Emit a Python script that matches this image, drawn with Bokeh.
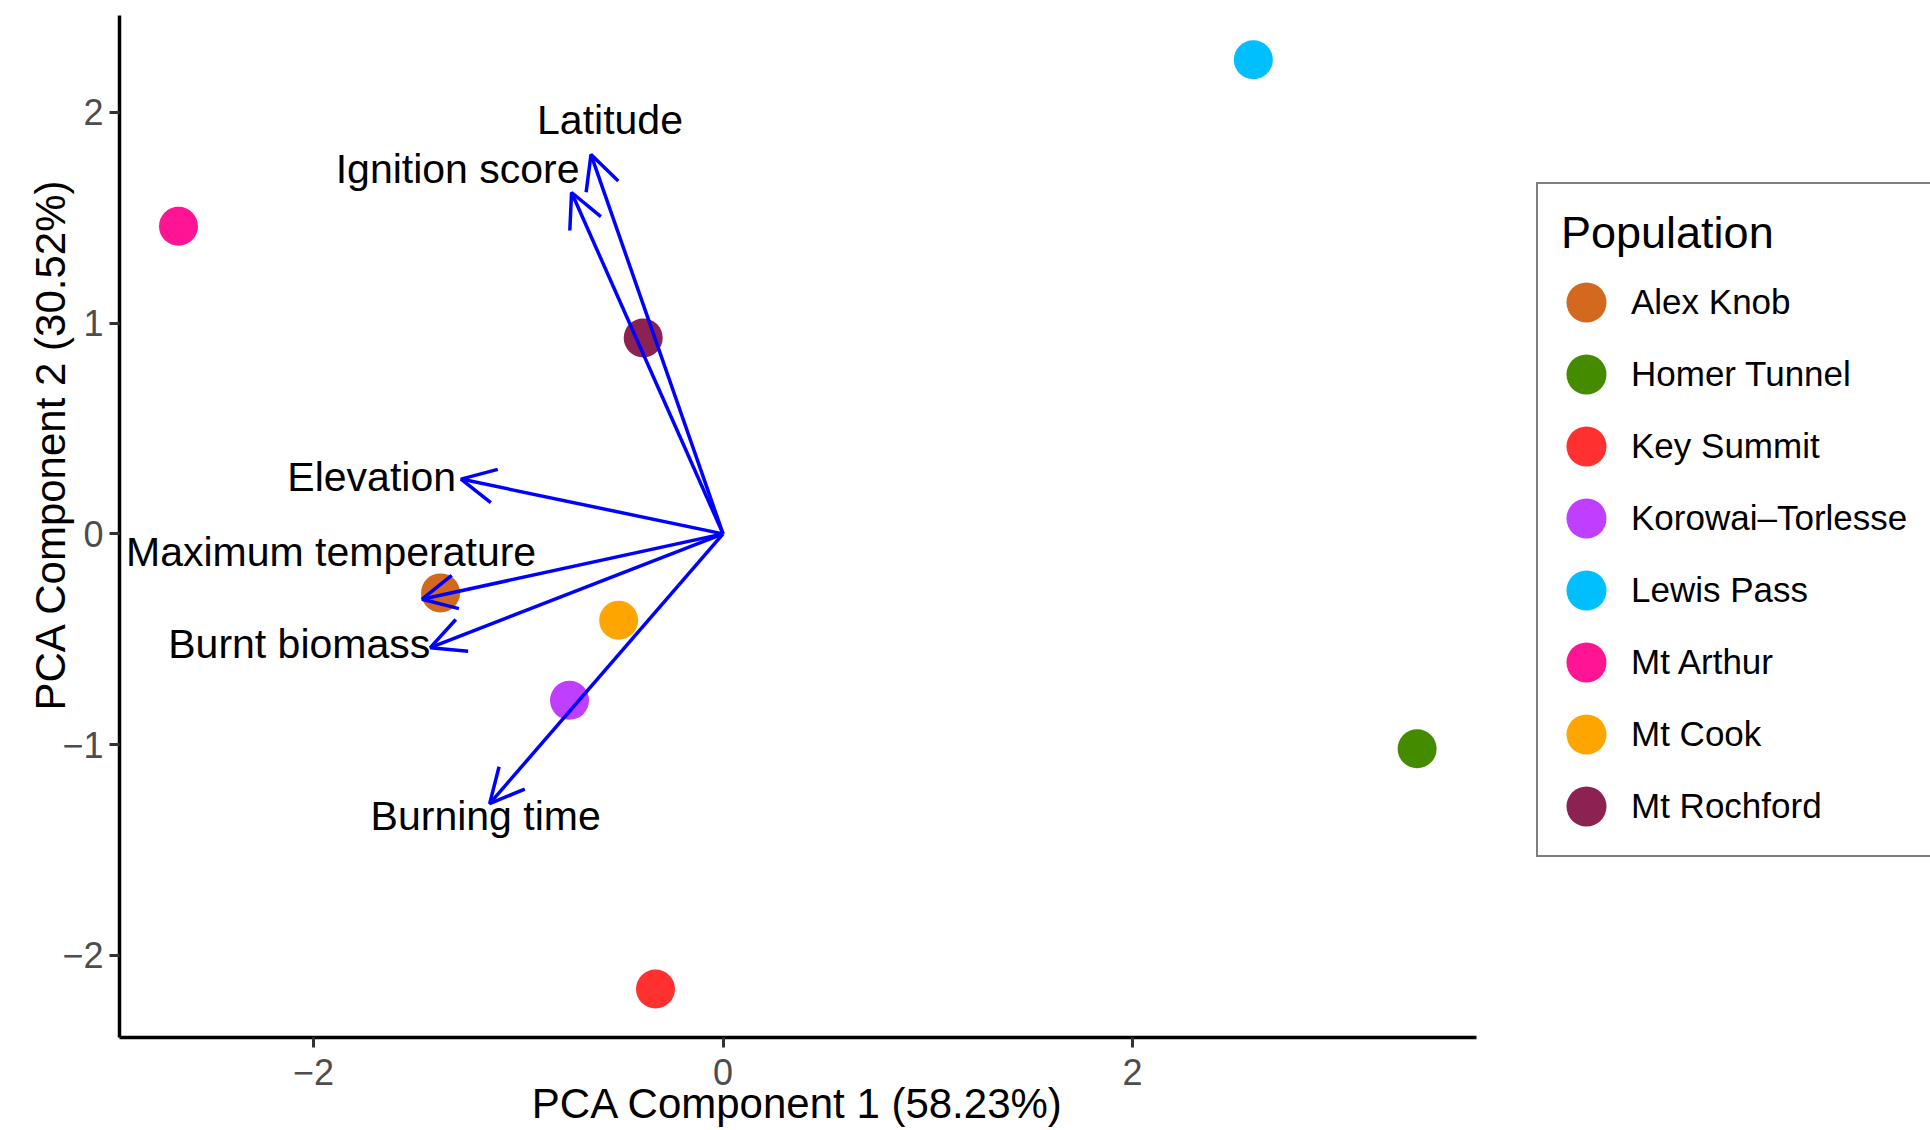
import math
from bokeh.plotting import figure
from bokeh.layouts import row
from bokeh.models import (ColumnDataSource, Arrow, OpenHead, Legend, LegendItem,
                          FixedTicker, Range1d, Title)
from bokeh.core.properties import value
from bokeh.embed import file_html
from bokeh.resources import INLINE

# ---------------- data ----------------
populations = ["Alex Knob", "Homer Tunnel", "Key Summit", "Korowai\u2013Torlesse",
               "Lewis Pass", "Mt Arthur", "Mt Cook", "Mt Rochford"]
pc1 = [-1.38, 3.39, -0.33, -0.75, 2.59, -2.66, -0.51, -0.39]
pc2 = [-0.28, -1.02, -2.16, -0.79, 2.25, 1.46, -0.41, 0.93]
colors = ["#D2691E", "#458B00", "#FF3030", "#BF3EFF",
          "#00BFFF", "#FF1493", "#FFA500", "#8B2252"]

variables = ["Latitude", "Ignition score", "Elevation",
             "Maximum temperature", "Burnt biomass", "Burning time"]
load1 = [-0.645, -0.74, -1.28, -1.47, -1.43, -1.14]
load2 = [1.80, 1.62, 0.26, -0.31, -0.54, -1.28]

x_ticks = [-2, 0, 2]
x_tick_labels = ["\u22122", "0", "2"]
y_ticks = [-2, -1, 0, 1, 2]
y_tick_labels = ["\u22122", "\u22121", "0", "1", "2"]

x_title = "PCA Component 1 (58.23%)"
y_title = "PCA Component 2 (30.52%)"
legend_title = "Population"

# ---------------- styles / layout ----------------
FONT = "Liberation Sans"
H = 1130
label_align = ["center", "right", "right", "center", "right", "center"]
label_xoff = [19, 8, -5, -91, 0, -4]
label_yoff = [-35, -24, -2, -47, -4, 12]

pts = ColumnDataSource(dict(x=pc1, y=pc2, name=populations, color=colors))

p = figure(width=1500, height=H, output_backend="svg", toolbar_location=None,
           x_range=Range1d(-2.948, 3.68), y_range=Range1d(-2.39, 2.46),
           min_border_left=119, min_border_right=24, min_border_top=15,
           min_border_bottom=93)
p.outline_line_color = None
p.grid.visible = False
p.background_fill_color = "white"
p.border_fill_color = "white"

p.ellipse("x", "y", width=39, height=39, width_units="screen", height_units="screen",
          source=pts, fill_color="color", line_color=None)

for i in range(len(variables)):
    p.add_layout(Arrow(end=OpenHead(size=34, line_color="#0000FF", line_width=3.5),
                       x_start=0, y_start=0, x_end=load1[i], y_end=load2[i],
                       line_color="#0000FF", line_width=3.5))

lab = ColumnDataSource(dict(x=load1, y=load2, text=variables, align=label_align,
                            xo=label_xoff, yo=label_yoff))
p.text("x", "y", text="text", source=lab, text_align="align",
       text_baseline="alphabetic", x_offset="xo", y_offset="yo",
       text_font=value(FONT), text_font_size="41px", text_color="black")

for ax, ticks, labels in ((p.xaxis, x_ticks, x_tick_labels), (p.yaxis, y_ticks, y_tick_labels)):
    ax.ticker = FixedTicker(ticks=ticks)
    ax.major_label_overrides = {t: l for t, l in zip(ticks, labels)}
    ax.axis_line_color = "black"
    ax.axis_line_width = 3.5
    ax.major_tick_line_color = "#333333"
    ax.major_tick_line_width = 3
    ax.major_tick_in = 0
    ax.major_tick_out = 10
    ax.minor_tick_line_color = None
    ax.major_label_text_font = FONT
    ax.major_label_text_font_size = "36px"
    ax.major_label_text_color = "#4D4D4D"

p.xaxis.major_label_standoff = 11
p.yaxis.major_label_standoff = 6
p.xaxis.axis_label = x_title
p.xaxis.axis_label_text_font = FONT
p.xaxis.axis_label_text_font_size = "42px"
p.xaxis.axis_label_text_font_style = "normal"
p.xaxis.axis_label_text_color = "black"
p.xaxis.axis_label_standoff = -8

yt = Title(text=y_title, align="left", offset=327, standoff=-28,
           text_font=FONT, text_font_size="42px", text_font_style="normal",
           text_color="black")
p.add_layout(yt, "left")

# ---------------- legend panel ----------------
pl = figure(width=430, height=H, output_backend="svg", toolbar_location=None,
            x_range=Range1d(100, 101), y_range=Range1d(100, 101),
            x_axis_location=None, y_axis_location=None, min_border=0)
pl.outline_line_color = None
pl.grid.visible = False
pl.background_fill_color = "white"
pl.border_fill_color = "white"
rl = pl.ellipse("x", "y", width=39, height=39, width_units="screen", height_units="screen",
                source=pts, fill_color="color", line_color=None)

items = [LegendItem(label=populations[i], renderers=[rl], index=i) for i in range(len(populations))]
legend = Legend(items=items, location=(36, 180), title=legend_title,
                title_text_font=FONT, title_text_font_size="45px", title_text_font_style="normal",
                title_text_color="black", title_standoff=17,
                label_text_font=FONT, label_text_font_size="35px", label_text_color="black",
                glyph_width=50, glyph_height=52, label_height=52, spacing=20,
                padding=23, label_standoff=20, margin=0,
                border_line_color="black", border_line_width=2.5,
                background_fill_color="white", background_fill_alpha=1.0)
pl.add_layout(legend)

layout = row(p, pl, spacing=0)
open("out.html", "w").write(file_html(layout, INLINE))
